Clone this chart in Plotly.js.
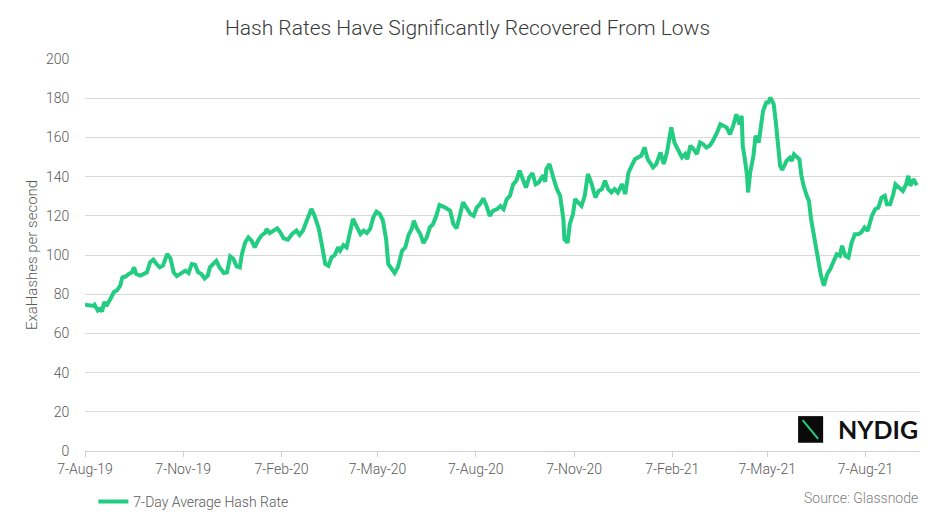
<!DOCTYPE html>
<html>
<head>
<meta charset="utf-8">
<script src="https://cdn.plot.ly/plotly-3.0.1.min.js"></script>
<style>html,body{margin:0;padding:0;background:#fff;}#chart{width:935px;height:517px;}</style>
</head>
<body>
<div id="chart"></div>
<script>
// ---- data ----
const startDate = '2019-08-07';
const dayOffsets = [
  0,5,8,9,12,14,16,18,20,23,27,30,33,35,38,41,44,46,48,52,55,58,61,64,67,70,73,77,80,83,86,89,94,97,100,103,106,109,112,115,117,120,123,126,130,133,136,139,142,145,147,150,153,156,159,162,165,169,170,173,
  180,183,186,190,194,198,201,204,208,212,215,219,222,225,228,231,234,237,239,242,245,248,251,254,258,261,264,267,270,273,276,279,282,284,287,290,293,297,300,303,306,308,311,314,317,320,323,326,329,332,337,342,345,348,351,354,357,361,364,367,370,373,376,379,
  382,386,389,392,395,398,401,404,407,410,413,416,419,422,425,429,431,432,435,439,442,445,448,449,452,454,457,459,462,465,468,471,474,478,481,484,487,490,493,496,499,503,506,509,512,515,518,521,524,527,532,535,539,542,545,549,552,556,559,562,564,567,570,573,576,
  579,582,585,588,592,595,598,601,604,607,610,613,615,616,618,620,621,623,626,628,631,633,635,638,640,642,645,647,649,651,653,657,660,662,664,667,669,671,673,676,678,680,684,687,689,692,695,698,701,704,707,709,712,715,718,721,724,727,730,733,737,740,743,746,749,751,754,757,759,763,766,769,771,773,776,779
];
const hashRate = [
  74.6,74,74,74.6,71.7,72.5,71.2,76,74,76.8,81,82,84.4,88.6,89,90.3,91.2,93.7,90.3,89.5,90.3,91.2,96.3,97.6,95.4,93.7,94.6,100.5,98.3,91.2,89.2,90.3,92,90.8,95.4,95,91.2,90.3,88,89.5,93.7,95.4,97,93.7,90.8,91.2,99.3,98,94.2,93.7,100.5,106.4,109,107.3,103.9,107.3,109.8,111.5,113.2,111.2,
  113.6,111.5,108.5,107.8,110.7,112.4,110.2,112.4,117.5,123.5,120,113.3,104.7,95.4,94.5,98.8,100,103.9,102.2,105,103.9,110.7,118.4,115,110.7,112.4,111.2,113.3,119.2,122.1,121,117.5,108.1,95.4,92.8,90.8,93.7,102.2,103.9,110.2,113.3,117.5,113.3,110.7,106.1,109,114.1,115.8,120,125.5,124.3,122.6,115.8,113.6,120,126.9,124.3,120.9,120,124.3,126,128.9,125.2,120,
  122.5,123.4,125,123.4,128.5,130.2,136.1,137.9,143,138.7,134.4,139.6,141.8,136.1,137,140.7,137.3,143.8,146.4,138.7,133.6,130.2,118.3,108,106.3,115.7,120.8,128.5,126.8,125,130.2,141.3,137,129.3,132.7,133.6,137.9,133.6,131.9,133.6,131.9,136.1,131.1,142.1,145.5,148.9,149.8,150.6,154.9,148.9,144.7,146.4,152.3,146.4,152.3,165.1,157.4,153.2,149.8,151.5,148.9,155.7,154,151.5,157.4,
  156.5,154.8,155.7,158.2,162.5,166.7,165.9,165,161.6,165.9,171.8,166.7,171,155.7,148.9,140.4,131.9,142.1,150.6,160.8,157.4,167.6,173.5,177.8,177.8,180.3,176.9,167.6,155.7,145.5,143.4,148,149.7,148,151.4,149.7,148.9,140.4,135.3,130.2,127.6,118.3,106.4,97.9,90.2,84.3,90.2,92.8,97,100.4,99.6,104.7,99.6,98.7,106.4,110.6,110.6,111.5,114,112.3,120,123.4,124.2,129.3,130.2,125.9,125.9,131,136.1,134.4,132.7,136.1,140.4,135.3,138.7,135.6
];
const tickDates = ['2019-08-07','2019-11-07','2020-02-07','2020-05-07','2020-08-07','2020-11-07','2021-02-07','2021-05-07','2021-08-07'];
const tickLabels = ['7-Aug-19','7-Nov-19','7-Feb-20','7-May-20','7-Aug-20','7-Nov-20','7-Feb-21','7-May-21','7-Aug-21'];
const yTicks = [0,20,40,60,80,100,120,140,160,180,200];
const rangeEnd = '2021-09-27';

// ---- build dates ----
function addDays(base, n) {
  const d = new Date(base + 'T00:00:00Z');
  d.setUTCDate(d.getUTCDate() + n);
  return d.toISOString().slice(0, 10);
}
const dates = dayOffsets.map(n => addDays(startDate, n));

const FONT = 'Roboto, "Liberation Sans", Arial, sans-serif';
const GREEN = '#22cc80';

const trace = {
  type: 'scatter', mode: 'lines',
  x: dates, y: hashRate,
  name: '7-Day Average Hash Rate',
  line: {color: GREEN, width: 4}
};

const layout = {
  width: 935, height: 517,
  margin: {l: 85, r: 15, t: 59, b: 66, autoexpand: false},
  paper_bgcolor: '#fff', plot_bgcolor: '#fff',
  font: {family: FONT, color: '#595959', size: 14, weight: 300},
  title: {text: 'Hash Rates Have Significantly Recovered From Lows', font: {family: FONT, size: 21, color: '#3a3a3a', weight: 300},
          x: 0.5, xref: 'container', xanchor: 'center', y: 0.946, yref: 'container', yanchor: 'middle'},
  xaxis: {
    type: 'date', range: [startDate, rangeEnd],
    tickvals: tickDates, ticktext: tickLabels,
    showgrid: false, showline: true, linecolor: '#d0d0d0', linewidth: 1,
    ticks: 'outside', ticklen: 5, tickcolor: '#d0d0d0',
    tickfont: {size: 14, color: '#595959', weight: 300}, zeroline: false, fixedrange: true
  },
  yaxis: {
    range: [0, 200], tickvals: yTicks,
    showgrid: true, gridcolor: '#d9d9d9', gridwidth: 1,
    zeroline: false, showline: false,
    ticks: 'outside', ticklen: 12, tickcolor: 'rgba(0,0,0,0)',
    tickfont: {size: 14, color: '#595959', weight: 300},
    title: {text: 'ExaHashes per second', font: {size: 15, color: '#595959', weight: 300}, standoff: 4},
    fixedrange: true
  },
  showlegend: true,
  legend: {orientation: 'h', x: 0.01, y: -0.13, xanchor: 'left', yanchor: 'middle',
           font: {size: 14, color: '#595959', weight: 300}, bgcolor: 'rgba(0,0,0,0)'},
  shapes: [
    {type: 'rect', xref: 'paper', yref: 'paper', x0: 0.854, x1: 0.884, y0: 0.021, y1: 0.089,
     fillcolor: '#0a0a0a', line: {width: 0}},
    {type: 'line', xref: 'paper', yref: 'paper', x0: 0.8595, x1: 0.878, y0: 0.079, y1: 0.031,
     line: {color: GREEN, width: 2}}
  ],
  annotations: [
    {text: '<b>NYDIG</b>', xref: 'paper', yref: 'paper', x: 0.899, y: 0.055, xanchor: 'left', yanchor: 'middle',
     showarrow: false, font: {family: 'Lato, Roboto, sans-serif', size: 25, color: '#111'}},
    {text: 'Source: Glassnode', xref: 'paper', yref: 'paper', x: 1.0, y: -0.12, xanchor: 'right', yanchor: 'middle',
     showarrow: false, font: {size: 14, color: '#808080', weight: 300}}
  ]
};

Plotly.newPlot('chart', [trace], layout, {displayModeBar: false, staticPlot: true});
</script>
</body>
</html>
